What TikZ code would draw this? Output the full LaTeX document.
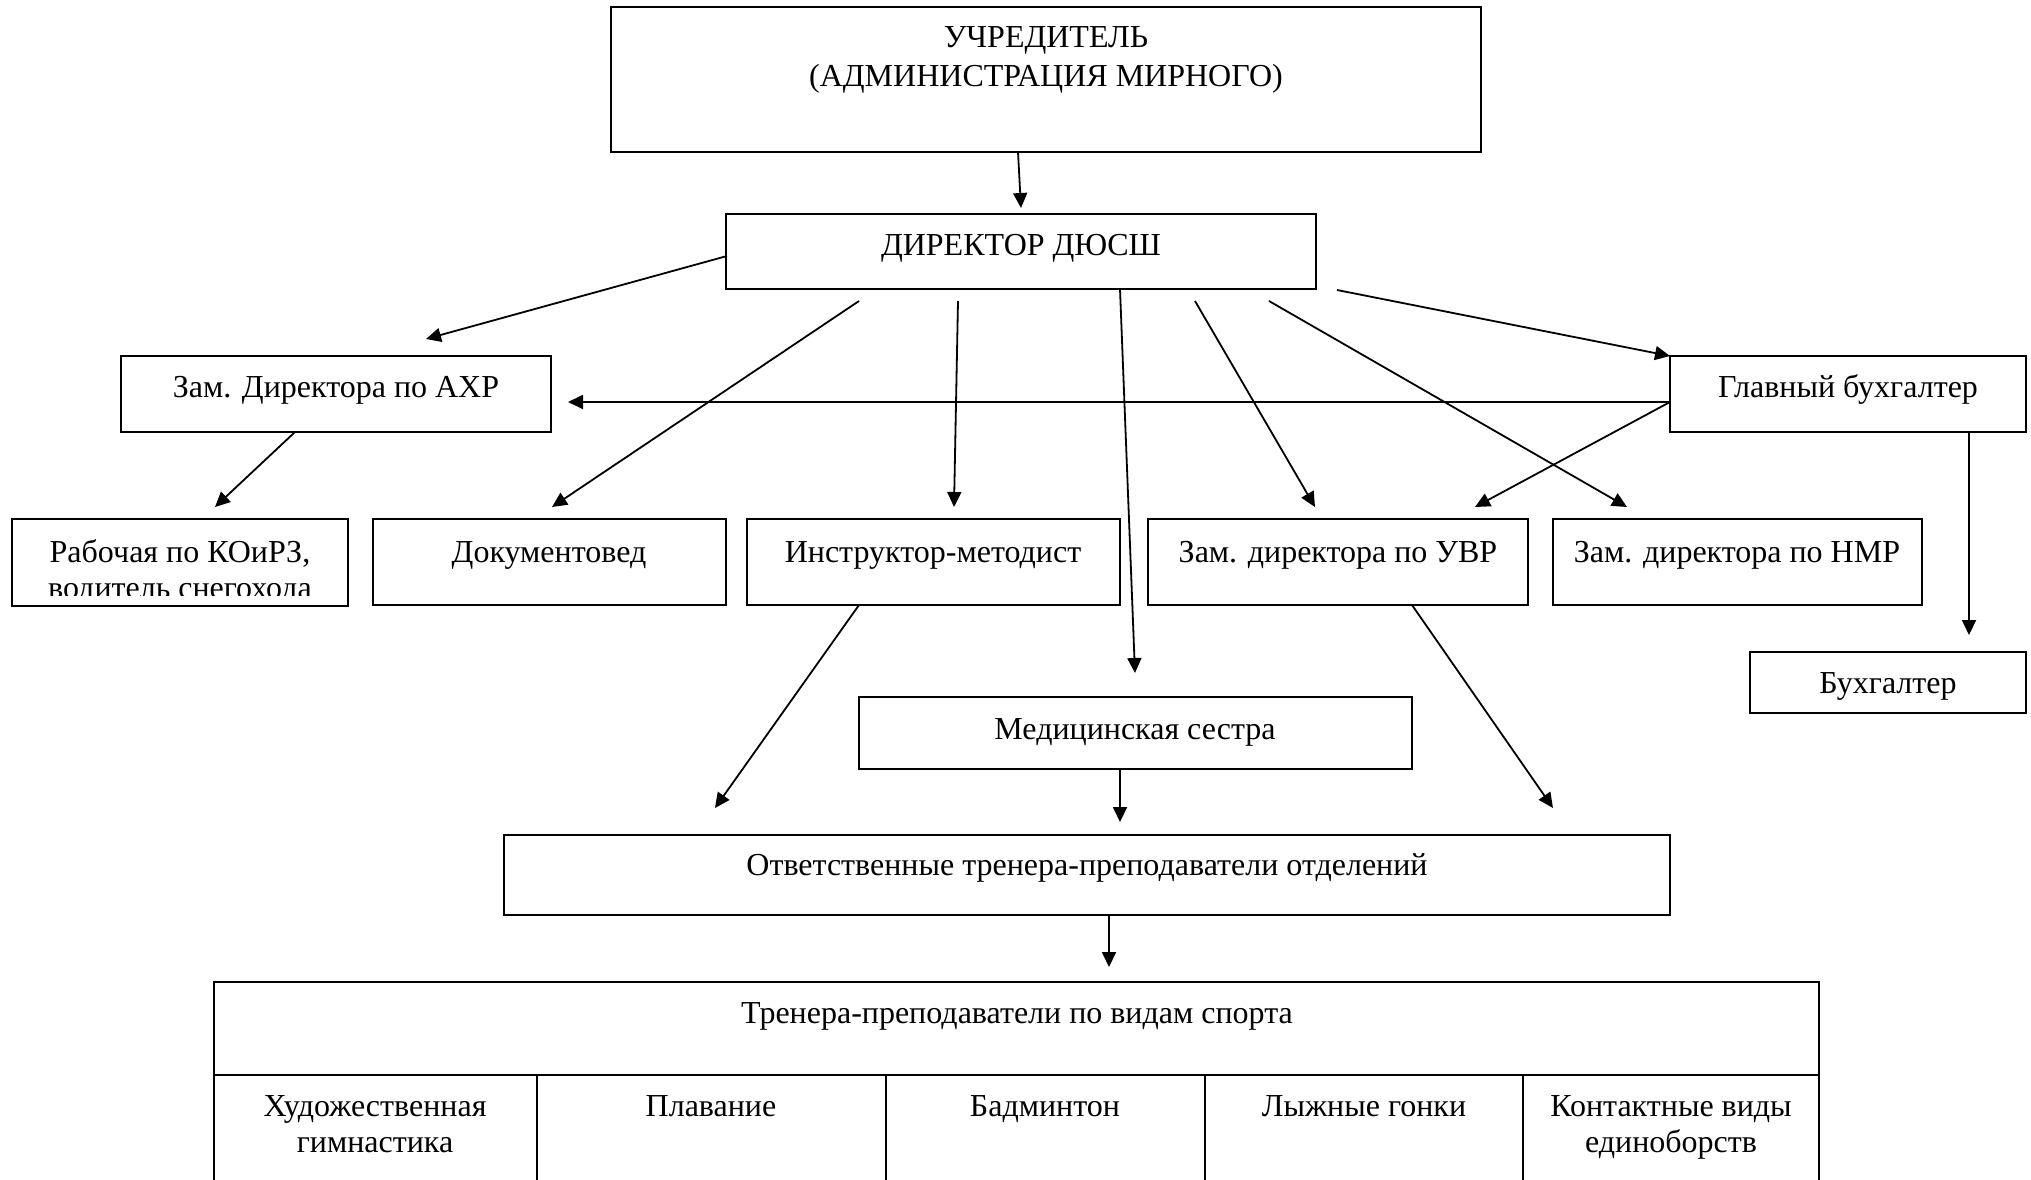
\documentclass[tikz,border=0pt]{standalone}
\usepackage{fontspec}
\setmainfont{Liberation Serif}
\usetikzlibrary{arrows.meta,calc}
\newcommand\mkbox[5]{\node[boxst, minimum width={(#4-#2)*0.5pt}, minimum height={(#5-#3)*0.5pt}] (#1) at (#2,#3) {};}
\begin{document}
\begin{tikzpicture}[x=0.5pt,y=-0.5pt,
  boxst/.style={draw, line width=1pt, inner sep=0pt, outer sep=0pt, anchor=north west},
  lbl/.style={anchor=base, inner sep=0pt, font=\fontsize{16}{19}\selectfont},
  arr/.style={line width=0.9pt, -{Triangle[length=7.5pt,width=7pt]}}]
\clip (0,0) rectangle (2031,1179);
\fill[white] (0,0) rectangle (2031,1179);
% boxes
\mkbox{uch}{611}{7}{1481}{152}
\mkbox{dir}{726}{214}{1316}{289}
\mkbox{axp}{121}{356}{551}{432}
\mkbox{glb}{1670}{356}{2026}{432}
\mkbox{rab}{12}{519}{348}{606}
\mkbox{doc}{373}{519}{726}{605}
\mkbox{ins}{747}{519}{1120}{605}
\mkbox{uvr}{1148}{519}{1528}{605}
\mkbox{nmr}{1553}{519}{1922}{605}
\mkbox{buh}{1750}{652}{2026}{713}
\mkbox{med}{859}{697}{1412}{769}
\mkbox{otv}{504}{835}{1670}{915}
\mkbox{hdr}{214}{982}{1819}{1075}
\mkbox{c1}{214}{1075}{537}{1200}
\mkbox{c2}{537}{1075}{886}{1200}
\mkbox{c3}{886}{1075}{1205}{1200}
\mkbox{c4}{1205}{1075}{1523}{1200}
\mkbox{c5}{1523}{1075}{1819}{1200}
% texts
\node[lbl] (uchA) at (1046,47) {УЧРЕДИТЕЛЬ};
\node[lbl] (uchB) at (1046,86) {(АДМИНИСТРАЦИЯ МИРНОГО)};
\node[lbl] (dirT) at (1021,255) {ДИРЕКТОР ДЮСШ};
\node[lbl] (axpT) at (336,397) {Зам. Директора по АХР};
\node[lbl] (glbT) at (1848,397) {Главный бухгалтер};
\begin{scope}
\clip (12,519) rectangle (348,595);
\node[lbl] (rabA) at (180,562) {Рабочая по КОиРЗ,};
\node[lbl] (rabB) at (180,598) {водитель снегохода};
\end{scope}
\node[lbl] (docT) at (549,562) {Документовед};
\node[lbl] (insT) at (933,562) {Инструктор-методист};
\node[lbl] (uvrT) at (1338,562) {Зам. директора по УВР};
\node[lbl] (nmrT) at (1737,562) {Зам. директора по НМР};
\node[lbl] (buhT) at (1888,693) {Бухгалтер};
\node[lbl] (medT) at (1135,739) {Медицинская сестра};
\node[lbl] (otvT) at (1087,875) {Ответственные тренера-преподаватели отделений};
\node[lbl] (hdrT) at (1017,1023) {Тренера-преподаватели по видам спорта};
\node[lbl] (c1A) at (375,1116) {Художественная};
\node[lbl] (c1B) at (375,1152) {гимнастика};
\node[lbl] (c2A) at (711,1116) {Плавание};
\node[lbl] (c3A) at (1045,1116) {Бадминтон};
\node[lbl] (c4A) at (1364,1116) {Лыжные гонки};
\node[lbl] (c5A) at (1671,1116) {Контактные виды};
\node[lbl] (c5B) at (1671,1152) {единоборств};
% free ends
\coordinate (t1) at (1021,208);
\coordinate (s3) at (859,301);  \coordinate (t3) at (552,507);
\coordinate (s4) at (958,301);  \coordinate (t4) at (954,507);
\coordinate (t5) at (1135,673);
\coordinate (s6) at (1195,301); \coordinate (t6) at (1315,507);
\coordinate (s7) at (1269,301); \coordinate (t7) at (1627,507);
\coordinate (s8) at (1337,290);
\coordinate (t2) at (426,339);
\coordinate (t9) at (568,402);
\coordinate (t10) at (1475,507);
\coordinate (t11) at (1969,635);
\coordinate (t12) at (215,507);
\coordinate (t13) at (715,808);
\coordinate (t14) at (1553,808);
\coordinate (t15) at (1120,822);
\coordinate (t16) at (1109,967);
% connectors
\draw[arr] ($(uch.south west)+(407,0)$) -- (t1);
\draw[arr] ($(dir.north west)+(1,42)$) -- (t2);
\draw[arr] (s3) -- (t3);
\draw[arr] (s4) -- (t4);
\draw[arr] ($(dir.south west)+(394,0)$) -- (t5);
\draw[arr] (s6) -- (t6);
\draw[arr] (s7) -- (t7);
\draw[arr] (s8) -- (glb.north west);
\draw[arr] ($(glb.north west)+(0,46)$) -- (t9);
\draw[arr] ($(glb.north west)+(0,46)$) -- (t10);
\draw[arr] ($(glb.south west)+(299,0)$) -- (t11);
\draw[arr] ($(axp.south west)+(174,0)$) -- (t12);
\draw[arr] ($(ins.south west)+(112,0)$) -- (t13);
\draw[arr] ($(uvr.south west)+(264,0)$) -- (t14);
\draw[arr] ($(med.south west)+(261,0)$) -- (t15);
\draw[arr] ($(otv.south west)+(605,0)$) -- (t16);
\end{tikzpicture}
\end{document}
